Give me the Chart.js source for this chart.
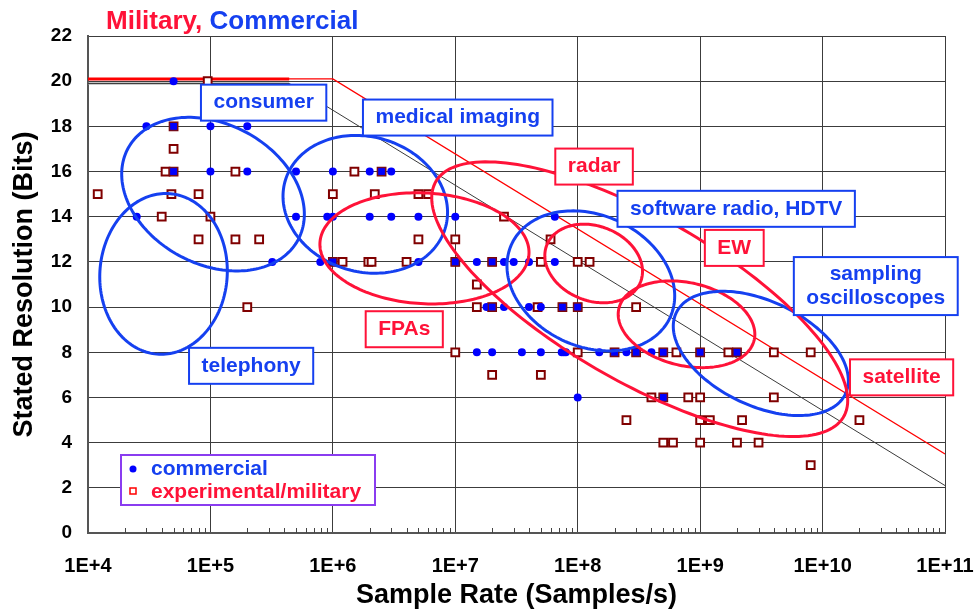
<!DOCTYPE html>
<html>
<head>
<meta charset="utf-8">
<script src="https://cdn.jsdelivr.net/npm/chart.js@4.4.1/dist/chart.umd.min.js"></script>
<style>
  body { margin: 0; background: #fff; }
  canvas { display: block; }
</style>
</head>
<body>
<canvas id="myChart" width="976" height="612"></canvas>
<script>
// sample rate (Samples/s) and stated resolution (bits)
var commercialRate = [
  5e4,
  3e4, 5e4, 1e5, 2e5,
  5e4, 1e5, 2e5, 5e5, 1e6, 2e6, 2.5e6, 3e6,
  2.5e4, 5e5, 9e5, 1e6, 2e6, 3e6, 5e6, 1e7, 6.5e7,
  3.2e5, 7.9e5, 1e6, 5e6, 1e7, 1.5e7, 2e7, 2.5e7, 3e7, 4e7, 6.5e7,
  1.8e7, 2e7, 2.5e7, 4e7, 5e7, 7.5e7, 1e8,
  1.5e7, 2e7, 3.5e7, 5e7, 7.4e7, 7.7e7, 8e7, 1.5e8, 2e8, 2.5e8, 3e8, 4e8, 5e8, 1e9, 2e9,
  1e8, 5e8
];
var commercialBits = [
  20,
  18, 18, 18, 18,
  16, 16, 16, 16, 16, 16, 16, 16,
  14, 14, 14, 14, 14, 14, 14, 14, 14,
  12, 12, 12, 12, 12, 12, 12, 12, 12, 12, 12,
  10, 10, 10, 10, 10, 10, 10,
  8, 8, 8, 8, 8, 8, 8, 8, 8, 8, 8, 8, 8, 8, 8,
  6, 6
];

var militaryRate = [
  9.5e4,
  5e4,
  5e4,
  4.3e4, 5e4, 1.6e5, 1.5e6, 2.5e6,
  1.2e4, 4.8e4, 8e4, 1e6, 2.2e6, 5e6, 6e6,
  4e4, 1e5, 2.5e7,
  8e4, 1.6e5, 2.5e5, 5e6, 1e7, 6e7,
  1e6, 1.2e6, 1.95e6, 2.07e6, 4e6, 1e7, 2e7, 5e7, 1e8, 1.25e8,
  1.5e7,
  2e5, 1.5e7, 2e7, 4.7e7, 7.5e7, 1e8, 3e8,
  1e7, 1e8, 2e8, 3e8, 5e8, 6.4e8, 1e9, 1.7e9, 2e9, 4e9, 8e9,
  2e7, 5e7,
  4e8, 5e8, 8e8, 1e9, 4e9,
  2.5e8, 1e9, 1.2e9, 2.2e9, 2e10,
  5e8, 6e8, 1e9, 2e9, 3e9,
  8e9
];
var militaryBits = [
  20,
  18,
  17,
  16, 16, 16, 16, 16,
  15, 15, 15, 15, 15, 15, 15,
  14, 14, 14,
  13, 13, 13, 13, 13, 13,
  12, 12, 12, 12, 12, 12, 12, 12, 12, 12,
  11,
  10, 10, 10, 10, 10, 10, 10,
  8, 8, 8, 8, 8, 8, 8, 8, 8, 8, 8,
  7, 7,
  6, 6, 6, 6, 6,
  5, 5, 5, 5, 5,
  4, 4, 4, 4, 4,
  3
];

// limit lines
var redLineRate = [1e4, 1e6, 1e11];
var redLineBits = [20.1, 20.1, 3.5];
var blackLineRate = [1e4, 4.4e5, 1e11];
var blackLineBits = [19.9, 19.9, 2.1];

var xTicks = [1e4, 1e5, 1e6, 1e7, 1e8, 1e9, 1e10, 1e11];
var xTickLabels = ["1E+4", "1E+5", "1E+6", "1E+7", "1E+8", "1E+9", "1E+10", "1E+11"];
var yTicks = [0, 2, 4, 6, 8, 10, 12, 14, 16, 18, 20, 22];

// application regions: centre rate, centre bits, half width (decades), half height (bits), tilt (bits at right end)
var regionName = ["consumer", "telephony", "medical", "FPAs", "radar", "software", "EW", "sampling", "satellite"];
var regionRate = [1.05e5, 4.14e4, 1.84e6, 5.6e6, 1.35e8, 1.28e8, 7.74e8, 3.13e9, 3.21e8];
var regionBits = [15.0, 11.47, 14.55, 12.6, 11.93, 11.16, 9.24, 7.95, 10.35];
var regionDecades = [0.746, 0.521, 0.672, 0.854, 0.399, 0.685, 0.558, 0.715, 1.699];
var regionHalfBits = [3.40, 3.56, 3.05, 2.46, 1.74, 3.10, 1.92, 2.75, 6.08];
var regionTilt = [-0.887, 0.13, -0.355, -0.18, -0.35, -0.665, -0.443, -1.2, -4.48];
var regionKind = ["c", "c", "c", "m", "m", "c", "m", "c", "m"];

// boxed captions
var labelText = [["consumer"], ["medical imaging"], ["radar"], ["software radio, HDTV"], ["EW"],
  ["sampling", "oscilloscopes"], ["satellite"], ["FPAs"], ["telephony"]];
var labelRate = [2.72e5, 1.047e7, 1.36e8, 1.97e9, 1.9e9, 2.72e10, 4.42e10, 3.83e6, 2.15e5];
var labelBits = [19.05, 18.39, 16.22, 14.35, 12.62, 10.93, 6.89, 9.02, 7.40];
var labelKind = ["c", "c", "m", "c", "m", "c", "m", "m", "c"];

var BLUE = "#1540f0";
var RED = "#ff1238";
var FONT = "'Liberation Sans', Arial, sans-serif";

function pts(xs, ys) {
  return xs.map((x, i) => ({ x: x, y: ys[i] }));
}

var commercial = pts(commercialRate, commercialBits);
var military = pts(militaryRate, militaryBits);
var both = commercial.filter(p => military.some(q => q.x === p.x && q.y === p.y));

var overlay = {
  id: "overlay",
  beforeDatasetsDraw(chart) {
    // minor log ticks on the x axis
    var ctx = chart.ctx, xs = chart.scales.x, bottom = chart.chartArea.bottom;
    ctx.save();
    ctx.strokeStyle = "#444";
    ctx.lineWidth = 1;
    for (var e = 4; e < 11; e++) {
      for (var m = 2; m < 10; m++) {
        var px = Math.round(xs.getPixelForValue(m * Math.pow(10, e))) + 0.5;
        ctx.beginPath();
        ctx.moveTo(px, bottom);
        ctx.lineTo(px, bottom - 5);
        ctx.stroke();
      }
    }
    ctx.restore();
  },
  afterDatasetsDraw(chart) {
    var ctx = chart.ctx, xs = chart.scales.x, ys = chart.scales.y;
    ctx.save();
    // ellipses
    ctx.lineWidth = 3;
    regionRate.forEach((rate, i) => {
      var lc = Math.log10(rate);
      var k = Math.sqrt(regionHalfBits[i] * regionHalfBits[i] - regionTilt[i] * regionTilt[i]);
      ctx.strokeStyle = regionKind[i] == "c" ? BLUE : RED;
      ctx.beginPath();
      for (var s = 0; s <= 180; s++) {
        var t = s / 180 * 2 * Math.PI;
        var px = xs.getPixelForValue(Math.pow(10, lc + regionDecades[i] * Math.cos(t)));
        var py = ys.getPixelForValue(regionBits[i] + regionTilt[i] * Math.cos(t) + k * Math.sin(t));
        if (s == 0) ctx.moveTo(px, py); else ctx.lineTo(px, py);
      }
      ctx.closePath();
      ctx.stroke();
    });

    // caption boxes
    ctx.textAlign = "center";
    ctx.textBaseline = "middle";
    labelText.forEach((lines, i) => {
      var col = labelKind[i] == "c" ? BLUE : RED;
      ctx.font = "bold 21px " + FONT;
      var w = Math.max.apply(null, lines.map(l => ctx.measureText(l).width)) + 25;
      var h = lines.length > 1 ? 58 : 36;
      var cx = xs.getPixelForValue(labelRate[i]);
      var cy = ys.getPixelForValue(labelBits[i]);
      ctx.fillStyle = "#fff";
      ctx.fillRect(cx - w / 2, cy - h / 2, w, h);
      ctx.strokeStyle = col;
      ctx.lineWidth = 2;
      ctx.strokeRect(cx - w / 2, cy - h / 2, w, h);
      ctx.fillStyle = col;
      lines.forEach((l, j) => {
        ctx.fillText(l, cx, cy + (j - (lines.length - 1) / 2) * 24);
      });
    });

    // legend
    var a = chart.chartArea;
    var lx = a.left + 33, ly = a.bottom - 78;
    ctx.fillStyle = "#fff";
    ctx.fillRect(lx, ly, 254, 50);
    ctx.strokeStyle = "#8a3cf0";
    ctx.lineWidth = 2;
    ctx.strokeRect(lx, ly, 254, 50);
    ctx.fillStyle = "#0000ff";
    ctx.beginPath();
    ctx.arc(lx + 12, ly + 14, 3.5, 0, 2 * Math.PI);
    ctx.fill();
    ctx.strokeStyle = "#ff0000";
    ctx.lineWidth = 1.5;
    ctx.strokeRect(lx + 9, ly + 33, 6, 6);
    ctx.font = "bold 21px " + FONT;
    ctx.textAlign = "left";
    ctx.fillStyle = BLUE;
    ctx.fillText(chart.data.datasets[1].label, lx + 30, ly + 14);
    ctx.fillStyle = RED;
    ctx.fillText(chart.data.datasets[2].label, lx + 30, ly + 37);

    // title
    ctx.font = "bold 26px " + FONT;
    ctx.textBaseline = "alphabetic";
    ctx.fillStyle = RED;
    ctx.fillText("Military,", 106, 29);
    var w1 = ctx.measureText("Military, ").width;
    ctx.fillStyle = BLUE;
    ctx.fillText("Commercial", 106 + w1, 29);
    ctx.restore();
  }
};

var ctx = document.getElementById("myChart").getContext("2d");
var chart = new Chart(ctx, {
  type: "scatter",
  data: {
    datasets: [
      {
        label: "both",
        data: both,
        pointStyle: "rect",
        pointRadius: 5.5,
        backgroundColor: "#0000ff",
        borderColor: "#7a1010",
        borderWidth: 1,
        order: 0
      },
      {
        label: "commercial",
        data: commercial,
        pointStyle: "circle",
        pointRadius: 4,
        backgroundColor: "#0000ff",
        borderWidth: 0,
        order: 1
      },
      {
        label: "experimental/military",
        data: military,
        pointStyle: "rect",
        pointRadius: 5.5,
        backgroundColor: "#fff",
        borderColor: "#800000",
        borderWidth: 2,
        order: 2
      },
      {
        type: "line",
        label: "red limit",
        data: pts(redLineRate, redLineBits),
        borderColor: "#ff0000",
        borderWidth: 1.3,
        pointRadius: 0,
        fill: false,
        order: 5
      },
      {
        type: "line",
        label: "red limit flat",
        data: pts(redLineRate.slice(0, 1).concat([4.4e5]), redLineBits.slice(0, 2)),
        borderColor: "#ff0000",
        borderWidth: 3,
        pointRadius: 0,
        fill: false,
        order: 5
      },
      {
        type: "line",
        label: "jitter limit",
        data: pts(blackLineRate, blackLineBits),
        borderColor: "#3a3a3a",
        borderWidth: 1,
        pointRadius: 0,
        fill: false,
        order: 6
      },
      {
        type: "line",
        label: "jitter limit flat",
        data: pts(blackLineRate.slice(0, 2), blackLineBits.slice(0, 2)),
        borderColor: "#9a9a9a",
        borderWidth: 2,
        pointRadius: 0,
        fill: false,
        order: 6
      }
    ]
  },
  options: {
    responsive: false,
    animation: false,
    layout: { padding: { top: 36, right: 31, left: 0, bottom: 0 } },
    scales: {
      x: {
        type: "logarithmic",
        min: 1e4,
        max: 1e11,
        afterBuildTicks: s => { s.ticks = xTicks.map(v => ({ value: v })); },
        afterFit: s => { s.height = 79; s.paddingLeft = 0; s.paddingRight = 0; },
        grid: { color: "#3c3c3c", lineWidth: 1, drawTicks: false },
        border: { color: "#555", width: 2 },
        ticks: {
          autoSkip: false,
          maxRotation: 0,
          padding: 21,
          color: "#000",
          font: { family: FONT, size: 20, weight: "bold" },
          callback: (v) => xTickLabels[xTicks.indexOf(v)]
        },
        title: {
          display: true,
          text: "Sample Rate (Samples/s)",
          color: "#000",
          font: { family: FONT, size: 27, weight: "bold" },
          padding: { top: 0, bottom: 0 }
        }
      },
      y: {
        min: 0,
        max: 22,
        afterBuildTicks: s => { s.ticks = yTicks.map(v => ({ value: v })); },
        afterFit: s => { s.width = 88; s.paddingTop = 0; s.paddingBottom = 0; },
        grid: { color: "#3c3c3c", lineWidth: 1, drawTicks: false },
        border: { color: "#555", width: 2 },
        ticks: {
          padding: 16,
          color: "#000",
          font: { family: FONT, size: 19, weight: "bold" }
        },
        title: {
          display: true,
          text: "Stated Resolution (Bits)",
          color: "#000",
          font: { family: FONT, size: 27, weight: "bold" },
          padding: { top: 8, bottom: 0 }
        }
      }
    },
    plugins: {
      legend: { display: false },
      tooltip: { enabled: false }
    }
  },
  plugins: [overlay]
});
</script>
</body>
</html>
